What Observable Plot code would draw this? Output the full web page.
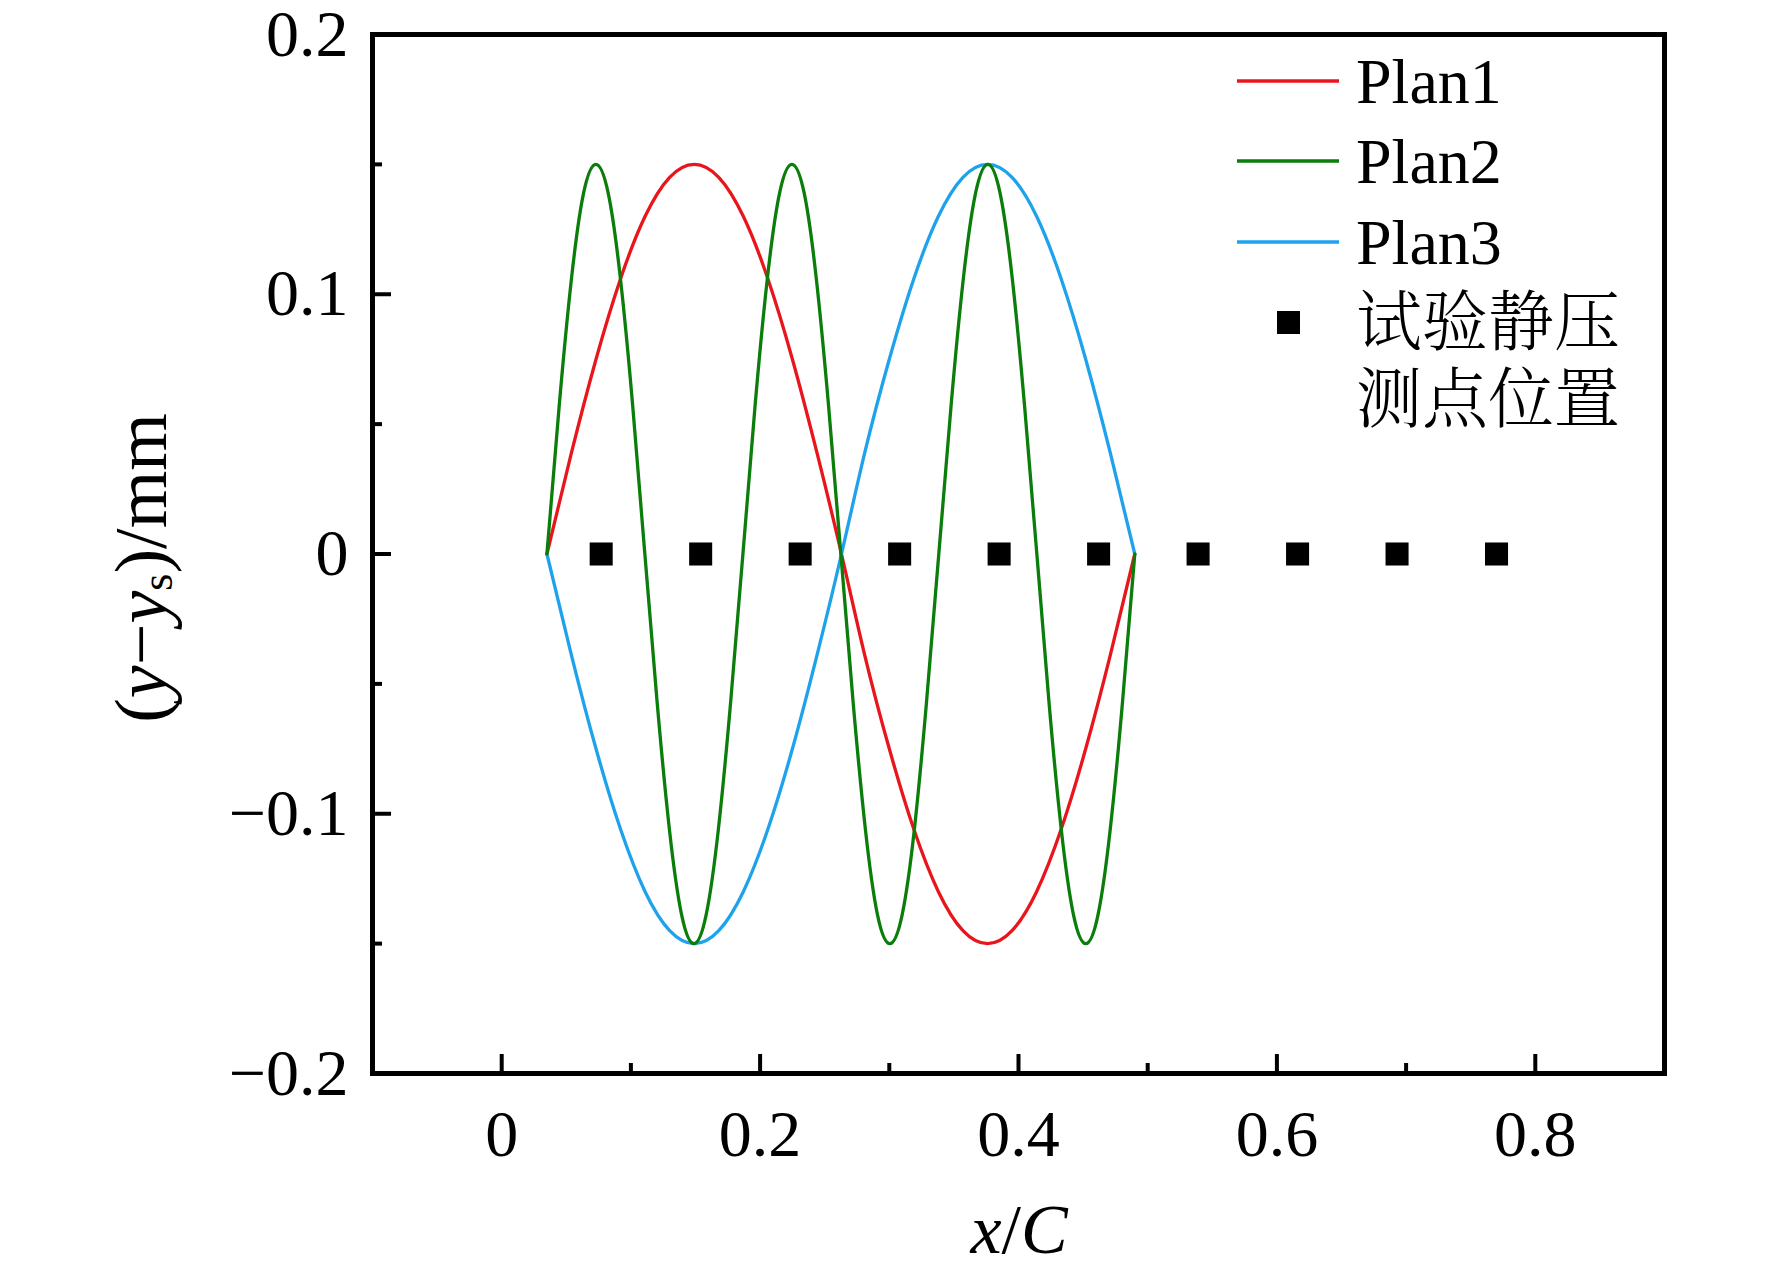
<!DOCTYPE html>
<html>
<head>
<meta charset="utf-8">
<script src="https://cdn.jsdelivr.net/npm/d3@7"></script>
<script src="https://cdn.jsdelivr.net/npm/@observablehq/plot@0.6"></script>
<style>
  html, body { margin: 0; padding: 0; background: white; }
</style>
</head>
<body>
<div id="chart"></div>
<script>
// ---- data ----
const plan13X = [0.035,0.054,0.073,0.092,0.111,0.130,0.149,0.168,0.187,0.206,0.225,0.244,0.263,0.281,0.300,0.319,0.338,0.357,0.376,0.395,0.414,0.433,0.452,0.471,0.490];
const plan1Y = [0,0.039,0.075,0.106,0.130,0.145,0.150,0.145,0.130,0.106,0.075,0.039,0,-0.039,-0.075,-0.106,-0.130,-0.145,-0.150,-0.145,-0.130,-0.106,-0.075,-0.039,0];
const plan3Y = [0,-0.039,-0.075,-0.106,-0.130,-0.145,-0.150,-0.145,-0.130,-0.106,-0.075,-0.039,0,0.039,0.075,0.106,0.130,0.145,0.150,0.145,0.130,0.106,0.075,0.039,0];
const plan2X = [0.0350,0.0445,0.0540,0.0634,0.0729,0.0824,0.0919,0.1014,0.1108,0.1203,0.1298,0.1393,0.1488,0.1582,0.1677,0.1772,0.1867,0.1961,0.2056,0.2151,0.2246,0.2341,0.2435,0.2530,0.2625,0.2720,0.2815,0.2909,0.3004,0.3099,0.3194,0.3288,0.3383,0.3478,0.3573,0.3668,0.3763,0.3857,0.3952,0.4047,0.4142,0.4236,0.4331,0.4426,0.4521,0.4615,0.4710,0.4805,0.4900];
const plan2Y = [0,0.057,0.106,0.139,0.150,0.139,0.106,0.057,0,-0.057,-0.106,-0.139,-0.150,-0.139,-0.106,-0.057,
                0,0.057,0.106,0.139,0.150,0.139,0.106,0.057,0,-0.057,-0.106,-0.139,-0.150,-0.139,-0.106,-0.057,
                0,0.057,0.106,0.139,0.150,0.139,0.106,0.057,0,-0.057,-0.106,-0.139,-0.150,-0.139,-0.106,-0.057,0];
const tapX = [0.077,0.154,0.231,0.308,0.385,0.462,0.539,0.616,0.693,0.770];
const tapY = [0,0,0,0,0,0,0,0,0,0];

const seriesNames = ["Plan1","Plan2","Plan3"];
const tapLabel = ["试验静压","测点位置"];

const xTickLabels = [0,0.2,0.4,0.6,0.8];
const xMinorTicks = [0.1,0.3,0.5,0.7];
const yTickLabels = [-0.2,-0.1,0,0.1,0.2];
const yMajorTicks = [-0.1,0,0.1];
const yMinorTicks = [-0.15,-0.05,0.05,0.15];

// ---- build tables ----
const plan1 = plan13X.map((x,i)=>({x, y: plan1Y[i]}));
const plan3 = plan13X.map((x,i)=>({x, y: plan3Y[i]}));
const plan2 = plan2X.map((x,i)=>({x, y: plan2Y[i]}));
const taps = tapX.map((x,i)=>({x, y: tapY[i]}));

const colors = {Plan1: "#e8161c", Plan2: "#0b7d0b", Plan3: "#1ea2ec"};

const W = 1772, H = 1275;
const mL = 372, mR = 108, mT = 34, mB = 202;
const plotW = W - mL - mR, plotH = H - mT - mB;
const fmt = d => d === 0 ? "0" : d3.format(".1f")(d);
const serif = "'Liberation Serif', 'Times New Roman', serif";

const svg = Plot.plot({
  width: W, height: H,
  marginLeft: mL, marginRight: mR, marginTop: mT, marginBottom: mB,
  style: {fontFamily: serif, fontSize: "66px", background: "white", color: "black", overflow: "visible"},
  x: {domain: [-0.1, 0.9]},
  y: {domain: [-0.2, 0.2]},
  marks: [
    Plot.line(plan1, {x: "x", y: "y", stroke: colors.Plan1, strokeWidth: 3.3, curve: "natural"}),
    Plot.line(plan3, {x: "x", y: "y", stroke: colors.Plan3, strokeWidth: 3.3, curve: "natural"}),
    Plot.line(plan2, {x: "x", y: "y", stroke: colors.Plan2, strokeWidth: 3.3, curve: "natural"}),
    Plot.dot(taps, {x: "x", y: "y", symbol: "square", fill: "black", r: 13}),
    Plot.tickX(xTickLabels, {x: d => d, insetTop: plotH - 19, stroke: "black", strokeWidth: 4}),
    Plot.tickX(xMinorTicks, {x: d => d, insetTop: plotH - 10, stroke: "black", strokeWidth: 4}),
    Plot.tickY(yMajorTicks, {y: d => d, insetRight: plotW - 19, stroke: "black", strokeWidth: 4}),
    Plot.tickY(yMinorTicks, {y: d => d, insetRight: plotW - 10, stroke: "black", strokeWidth: 4}),
    Plot.axisX({ticks: xTickLabels, tickSize: 0, tickPadding: 36, tickFormat: fmt, label: null, fontSize: 66}),
    Plot.axisY({ticks: yTickLabels, tickSize: 0, tickPadding: 24, tickFormat: fmt, label: null, fontSize: 66}),
    Plot.frame({stroke: "black", strokeWidth: 5})
  ]
});

document.getElementById("chart").appendChild(svg);

// ---- titles and legend ----
const s = d3.select(svg);

const xt = s.append("text")
  .attr("x", mL + plotW / 2 + 1).attr("y", 1253)
  .attr("text-anchor", "middle")
  .attr("font-family", serif).attr("font-size", 70).attr("fill", "black");
xt.append("tspan").attr("font-style", "italic").text("x");
xt.append("tspan").text("/");
xt.append("tspan").attr("font-style", "italic").text("C");

const yt = s.append("text")
  .attr("transform", "translate(166,568) rotate(-90)")
  .attr("text-anchor", "middle")
  .attr("font-family", serif).attr("font-size", 74).attr("fill", "black");
yt.append("tspan").text("(");
yt.append("tspan").attr("font-style", "italic").text("y");
yt.append("tspan").text("\u2212");
yt.append("tspan").attr("font-style", "italic").text("y");
yt.append("tspan").attr("font-size", 44).attr("dy", 6).text("s");
yt.append("tspan").attr("dy", -6).text(")/mm");

const legY = [81, 161, 242];
seriesNames.forEach((name, i) => {
  s.append("line")
    .attr("x1", 1237).attr("x2", 1339)
    .attr("y1", legY[i]).attr("y2", legY[i])
    .attr("stroke", colors[name]).attr("stroke-width", 3.5);
  s.append("text")
    .attr("x", 1356).attr("y", legY[i] + 22)
    .attr("text-anchor", "start")
    .attr("font-family", serif).attr("font-size", 64).attr("fill", "black")
    .text(name);
});
s.append("rect")
  .attr("x", 1277).attr("y", 311).attr("width", 23).attr("height", 23)
  .attr("fill", "black");
const cj = s.append("text")
  .attr("text-anchor", "start")
  .attr("font-family", "'Noto Serif CJK SC', 'Noto Sans CJK SC', sans-serif")
  .attr("font-size", 66).attr("font-weight", 300).attr("fill", "black");
tapLabel.forEach((t, i) => {
  cj.append("tspan")
    .attr("x", 1356).attr("y", 345 + i * 77)
    .text(t);
});
</script>
</body>
</html>
